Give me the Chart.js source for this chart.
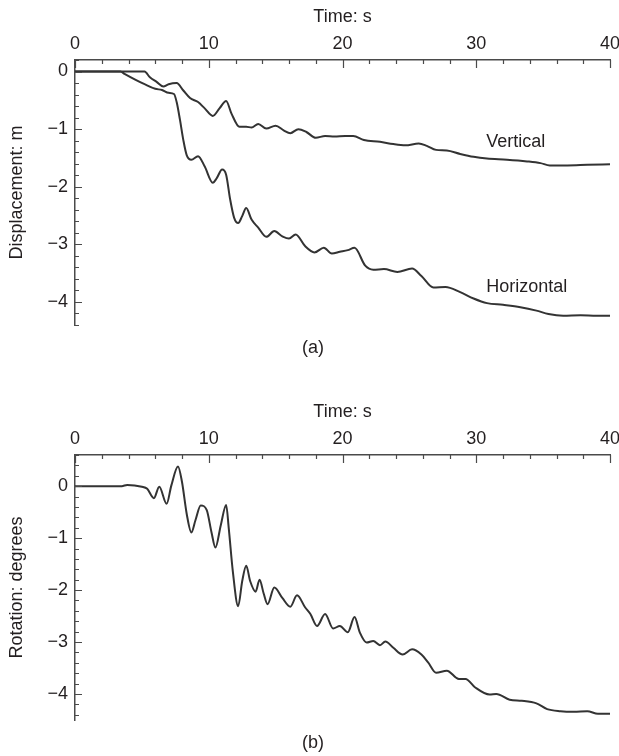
<!DOCTYPE html>
<html><head><meta charset="utf-8">
<script src="https://cdn.jsdelivr.net/npm/chart.js@4.4.1/dist/chart.umd.min.js"></script>
<style>html,body{margin:0;padding:0;background:#fff;} canvas{display:block;}</style>
</head><body>
<canvas id="c1" width="619" height="378"></canvas>
<canvas id="c2" width="619" height="378"></canvas>
<script>
// ---- data ----
const X_TICKS = [0, 10, 20, 30, 40];
const X_MINOR_STEP = 2;
const Y_TICKS = [0, -1, -2, -3, -4];
const Y_MINOR_STEP = 0.2;

const VERT_T = [0,5.2,5.6,6.1,6.6,7.0,7.6,8.1,8.6,9.2,9.7,10.3,10.8,11.3,11.7,12.3,12.8,13.2,13.7,14.3,15.0,15.6,16.1,16.7,17.3,18.0,18.7,19.4,20.2,20.8,21.6,22.8,23.8,24.7,25.7,26.3,27.0,27.8,28.8,29.8,30.8,32.3,33.8,34.8,35.5,36.8,38.3,40.0];
const VERT_Y = [0,0,-0.1,-0.18,-0.26,-0.22,-0.2,-0.33,-0.46,-0.53,-0.64,-0.77,-0.64,-0.51,-0.73,-0.96,-0.96,-0.97,-0.91,-0.99,-0.94,-1.02,-1.07,-1.0,-1.05,-1.15,-1.12,-1.13,-1.12,-1.12,-1.19,-1.22,-1.26,-1.28,-1.25,-1.29,-1.36,-1.37,-1.43,-1.48,-1.51,-1.53,-1.56,-1.59,-1.63,-1.63,-1.62,-1.61];

const HORZ_T = [0,3.4,3.7,4.5,5.2,6.0,6.5,7.0,7.4,7.6,7.85,8.1,8.35,8.7,9.2,9.7,10.3,10.6,11.0,11.3,11.6,11.9,12.2,12.5,12.8,13.2,13.7,14.3,14.9,15.5,16.0,16.5,17.2,17.9,18.6,19.2,19.8,20.4,20.9,21.7,22.3,23.1,24.1,25.2,25.9,26.8,27.7,28.8,29.8,30.8,32.0,33.3,34.5,35.4,36.5,37.8,39.0,40.0];
const HORZ_Y = [0,0,-0.04,-0.14,-0.22,-0.30,-0.32,-0.37,-0.39,-0.53,-0.84,-1.19,-1.45,-1.53,-1.47,-1.65,-1.93,-1.85,-1.70,-1.79,-2.22,-2.54,-2.63,-2.51,-2.37,-2.57,-2.71,-2.87,-2.77,-2.86,-2.90,-2.83,-3.03,-3.14,-3.06,-3.16,-3.13,-3.10,-3.06,-3.37,-3.44,-3.43,-3.48,-3.42,-3.55,-3.75,-3.74,-3.83,-3.94,-4.02,-4.05,-4.09,-4.15,-4.21,-4.24,-4.23,-4.24,-4.24];

const ROT_T = [0,3.5,3.9,5.0,5.4,5.9,6.3,6.85,7.2,7.7,8.0,8.35,8.7,9.0,9.4,9.85,10.2,10.5,10.9,11.3,11.5,11.8,12.2,12.5,12.8,13.1,13.5,13.8,14.1,14.4,14.9,15.5,16.1,16.6,17.2,17.6,18.1,18.7,19.3,19.8,20.4,20.9,21.3,21.8,22.3,22.8,23.2,23.8,24.5,25.2,25.9,26.4,27.0,27.8,28.7,29.2,29.9,31.0,31.5,32.5,33.4,34.5,35.3,36.3,37.3,38.3,39.1,40.0];
const ROT_Y = [0,0,0.025,-0.01,-0.05,-0.23,-0.01,-0.34,0.01,0.38,0.08,-0.53,-0.89,-0.66,-0.37,-0.46,-0.88,-1.18,-0.75,-0.36,-0.82,-1.64,-2.31,-1.83,-1.53,-1.83,-2.03,-1.80,-2.06,-2.27,-1.95,-2.15,-2.32,-2.10,-2.33,-2.46,-2.69,-2.46,-2.74,-2.69,-2.81,-2.52,-2.82,-3.01,-2.98,-3.06,-2.99,-3.11,-3.24,-3.14,-3.24,-3.39,-3.59,-3.55,-3.71,-3.71,-3.87,-4.01,-4.00,-4.11,-4.13,-4.18,-4.29,-4.33,-4.34,-4.33,-4.38,-4.38];

// ---- style ----
const TEXT = '#231f20';
const AXIS = '#4a4a4a';
const LINE = '#333333';
const FONT = {family: '"Liberation Sans", Arial, sans-serif', size: 18};
const FONT_CSS = '18px "Liberation Sans", Arial, sans-serif';

const fmt = v => v < 0 ? '\u2212' + Math.abs(v) : String(v);
const pts = (T, Y) => T.map((t, i) => ({x: t, y: Y[i]}));

function decor(panel, labels) {
  return {
    id: 'decor',
    afterDraw(chart) {
      const {ctx, chartArea: a, scales: {x, y}} = chart;
      ctx.save();
      ctx.strokeStyle = AXIS; ctx.lineWidth = 1.2;
      ctx.beginPath();
      for (let k = Math.ceil(x.min / X_MINOR_STEP - 1e-9); k * X_MINOR_STEP <= x.max + 1e-9; k++) {
        const v = k * X_MINOR_STEP;
        const px = Math.round(x.getPixelForValue(v)) + 0.5;
        const major = X_TICKS.some(m => Math.abs(m - v) < 1e-6);
        ctx.moveTo(px, a.top); ctx.lineTo(px, a.top + (major ? 8 : 4));
      }
      for (let k = Math.ceil(y.min / Y_MINOR_STEP - 1e-9); k * Y_MINOR_STEP <= y.max + 1e-9; k++) {
        const v = k * Y_MINOR_STEP;
        const py = Math.round(y.getPixelForValue(v)) + 0.5;
        const major = Y_TICKS.some(m => Math.abs(m - v) < 1e-6);
        ctx.moveTo(a.left, py); ctx.lineTo(a.left + (major ? 7 : 4), py);
      }
      ctx.stroke();
      ctx.fillStyle = TEXT; ctx.font = FONT_CSS;
      ctx.textBaseline = 'middle'; ctx.textAlign = 'left';
      for (const l of labels) ctx.fillText(l.text, x.getPixelForValue(l.x), y.getPixelForValue(l.y));
      ctx.textAlign = 'center';
      ctx.fillText(panel, 313, a.bottom + 23);
      ctx.restore();
    }
  };
}

function makeChart(id, datasets, yMin, yMax, yTitle, pad, panel, labels) {
  return new Chart(document.getElementById(id), {
    type: 'line',
    data: {datasets: datasets.map(d => ({
      data: d, borderColor: LINE, borderWidth: 2, pointRadius: 0,
      cubicInterpolationMode: 'monotone', fill: false
    }))},
    options: {
      responsive: false, animation: false, events: [],
      layout: {padding: pad},
      plugins: {legend: {display: false}, tooltip: {enabled: false}},
      scales: {
        x: {
          type: 'linear', position: 'top', min: 0, max: 40,
          afterBuildTicks: s => { s.ticks = X_TICKS.map(v => ({value: v})); },
          afterFit: s => { s.height = 60; s.paddingLeft = 0; s.paddingRight = 0; },
          grid: {display: true, drawOnChartArea: false, drawTicks: false},
          border: {display: true, color: AXIS, width: 1.5},
          ticks: {padding: 5, font: FONT, color: TEXT, maxRotation: 0, autoSkip: false, callback: fmt},
          title: {display: true, text: 'Time: s', font: FONT, color: TEXT, padding: {top: 6, bottom: 0}}
        },
        y: {
          type: 'linear', position: 'left', min: yMin, max: yMax,
          afterBuildTicks: s => { s.ticks = Y_TICKS.map(v => ({value: v})); },
          afterFit: s => { s.width = 75; s.paddingTop = 0; s.paddingBottom = 0; },
          grid: {display: true, drawOnChartArea: false, drawTicks: false},
          border: {display: true, color: AXIS, width: 1.5},
          ticks: {padding: 7, font: FONT, color: TEXT, autoSkip: false, callback: fmt},
          title: {display: true, text: yTitle, font: FONT, color: TEXT, padding: {top: 6, bottom: 0}}
        }
      }
    },
    plugins: [decor(panel, labels)]
  });
}

makeChart('c1', [pts(VERT_T, VERT_Y), pts(HORZ_T, HORZ_Y)], -4.4, 0.2, 'Displacement: m',
  {top: 0, right: 9, bottom: 53, left: 0}, '(a)',
  [{text: 'Vertical', x: 30.75, y: -1.22}, {text: 'Horizontal', x: 30.75, y: -3.74}]);
makeChart('c2', [pts(ROT_T, ROT_Y)], -4.5, 0.6, 'Rotation: degrees',
  {top: 17, right: 9, bottom: 36, left: 0}, '(b)', []);
</script>
</body></html>
